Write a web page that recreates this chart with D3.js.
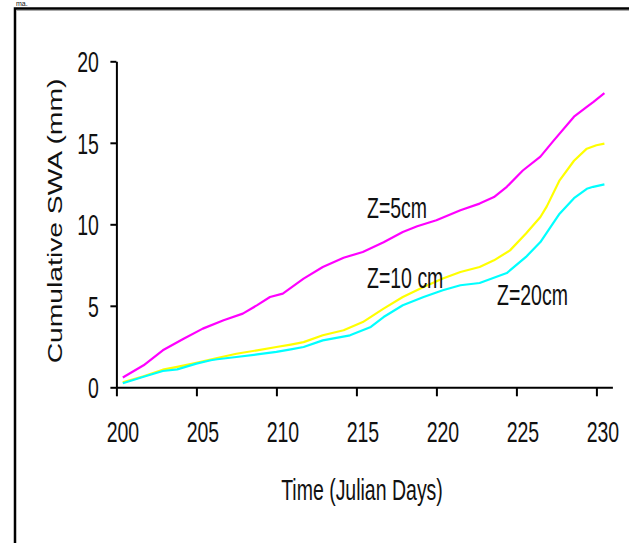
<!DOCTYPE html>
<html>
<head>
<meta charset="utf-8">
<script src="https://cdn.jsdelivr.net/npm/d3@7"></script>
<style>
  html, body { margin: 0; padding: 0; background: #fff; }
  svg { display: block; }
  text { font-family: "Liberation Sans", Arial, sans-serif; fill: #111; }
</style>
</head>
<body>
<svg id="chart" width="629" height="543"></svg>
<script>
/* Cumulative SWA by depth — three depth curves over Julian days 200-231. */
var xTicks = [200, 205, 210, 215, 220, 225, 230];
var yTicks = [0, 5, 10, 15, 20];

// Z=5cm (magenta)
var days5 = [200.4, 201.7, 202.9, 204.2, 205.4, 206.7, 207.9, 208.8, 209.6, 210.4, 211.7, 212.9, 214.2, 215.4, 216.7, 217.9, 218.8, 220.0, 221.5, 222.7, 223.6, 224.4, 225.4, 226.5, 227.3, 228.6, 229.4, 229.8, 230.5];
var swa5 = [0.6, 1.35, 2.27, 2.98, 3.6, 4.11, 4.52, 5.04, 5.54, 5.75, 6.67, 7.38, 7.95, 8.3, 8.9, 9.53, 9.88, 10.25, 10.86, 11.27, 11.67, 12.3, 13.3, 14.15, 15.1, 16.6, 17.2, 17.5, 18.05];

// Z=10 cm (yellow)
var days10 = [200.4, 201.7, 202.9, 203.8, 205.0, 206.3, 207.5, 208.8, 210.0, 210.9, 211.7, 212.9, 214.2, 215.4, 216.7, 217.9, 219.2, 220.4, 221.5, 222.7, 223.6, 224.6, 225.6, 226.5, 226.9, 227.7, 228.6, 229.4, 230.0, 230.5];
var swa10 = [0.3, 0.68, 1.08, 1.25, 1.5, 1.8, 2.06, 2.27, 2.47, 2.62, 2.77, 3.19, 3.5, 4.0, 4.83, 5.54, 6.15, 6.67, 7.07, 7.38, 7.79, 8.4, 9.43, 10.45, 11.1, 12.7, 13.9, 14.64, 14.85, 14.95];

// Z=20cm (cyan)
var days20 = [200.4, 201.7, 202.9, 203.8, 205.0, 205.9, 206.3, 207.5, 208.8, 210.0, 210.9, 211.7, 212.9, 214.6, 215.9, 216.7, 217.9, 219.2, 220.4, 221.5, 222.7, 224.4, 225.6, 226.5, 227.7, 228.6, 229.4, 229.8, 230.5];
var swa20 = [0.25, 0.65, 1.0, 1.1, 1.45, 1.66, 1.72, 1.86, 2.02, 2.17, 2.33, 2.47, 2.88, 3.19, 3.7, 4.31, 5.03, 5.54, 5.95, 6.26, 6.4, 7.01, 8.0, 8.91, 10.65, 11.6, 12.18, 12.3, 12.45];

var series = [
  { name: "Z=10 cm", days: days10, vals: swa10, color: "#ffff00", lab: [367, 288] },
  { name: "Z=20cm", days: days20, vals: swa20, color: "#00ffff", lab: [497, 305] },
  { name: "Z=5cm", days: days5, vals: swa5, color: "#ff00ff", lab: [367, 218] }
];

(function () {
  "use strict";
  var SY = 1.5; // picture is stretched vertically
  var svg = d3.select("#chart");
  var x = d3.scaleLinear().domain([200, 231]).range([116.4, 612.4]);
  var y = d3.scaleLinear().domain([0, 20]).range([387.3, 61.3]);

  // frame edges (left + top only)
  svg.append("path").attr("d", "M15,543V8.5H629").attr("fill", "none").attr("stroke", "#000").attr("stroke-width", 2.5);
  svg.append("path").attr("d", "M16,10.5H629").attr("fill", "none").attr("stroke", "#aaa").attr("stroke-width", 1);
  svg.append("text").attr("x", 16).attr("y", 6).style("font-size", "7px").text("ma.");

  // curves
  var line = d3.line().x(function (d) { return x(d[0]); }).y(function (d) { return y(d[1]); });
  series.forEach(function (s) {
    var pts = s.days.map(function (d, i) { return [d, s.vals[i]]; });
    svg.append("path").datum(pts).attr("d", line).attr("fill", "none")
      .attr("stroke", s.color).attr("stroke-width", 2.2).attr("stroke-linejoin", "round");
  });

  // axes
  var gx = svg.append("g").attr("transform", "translate(0," + y(0) + ")")
    .call(d3.axisBottom(x).tickValues(xTicks).tickSize(9).tickSizeOuter(0).tickFormat(d3.format("d")));
  var gy = svg.append("g").attr("transform", "translate(" + x(200) + ",0)")
    .call(d3.axisLeft(y).tickValues(yTicks).tickSize(6).tickSizeOuter(0).tickFormat(d3.format("d")));
  [gx, gy].forEach(function (g) {
    g.selectAll(".domain, .tick line").attr("stroke", "#000").attr("stroke-width", 2);
    g.attr("font-family", null).attr("font-size", null);
  });
  gx.selectAll(".tick text").attr("y", 0).attr("dy", null).attr("fill", "#111")
    .attr("transform", "translate(6,55) scale(1," + SY + ")").style("font-size", "19.5px");
  gy.selectAll(".tick text").attr("x", 0).attr("dy", null).attr("fill", "#111")
    .attr("transform", "translate(-17.5,10.5) scale(1," + SY + ")").style("font-size", "19.5px");

  // axis titles
  svg.append("text").attr("text-anchor", "middle").style("font-size", "19.5px")
    .attr("transform", "translate(362,500) scale(1," + SY + ")").text("Time (Julian Days)");
  svg.append("text").attr("text-anchor", "middle").style("font-size", "19.5px")
    .attr("transform", "translate(61.5,221) rotate(-90) scale(1.45,1)").text("Cumulative SWA (mm)");

  // curve labels
  series.forEach(function (s) {
    svg.append("text").attr("text-anchor", "start").style("font-size", "19.5px")
      .attr("transform", "translate(" + s.lab[0] + "," + s.lab[1] + ") scale(1," + SY + ")")
      .text(s.name);
  });
})();
</script>
</body>
</html>
